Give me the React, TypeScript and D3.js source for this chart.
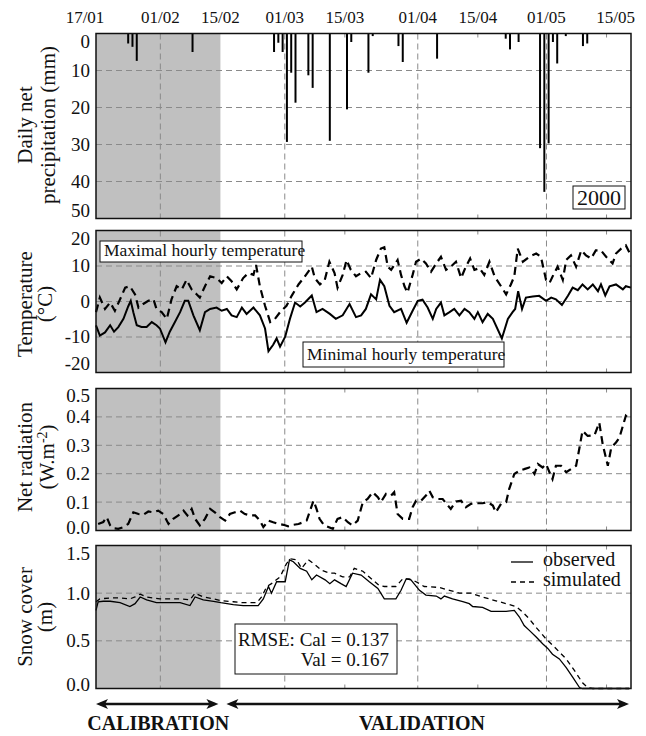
import React from 'react';
import * as d3 from 'd3';

// ---- Data (days counted from 17/01/2000) ----
const dateTickDays = [0, 15, 29, 44, 58, 75, 89, 105, 119];
const dateTickLabels = ['17/01', '01/02', '15/02', '01/03', '15/03', '01/04', '15/04', '01/05', '15/05'];
const monthGridDays = [15, 44, 75, 105];
const midMonthDays = [58, 89, 119];
const calibrationEndDay = 29;

const precipDays = [7, 8, 9, 22, 41, 42, 43, 44, 45, 46, 49, 50, 54, 58, 59, 63, 64, 70, 71, 79, 95, 96, 98, 103, 104, 105, 106, 107, 109, 113, 114];
const precipMm = [2.7, 3.6, 7.4, 5, 5, 2.5, 5, 29.3, 10.6, 18.7, 11.3, 14.7, 29, 20.5, 2.3, 10.6, 0.7, 3.4, 7.7, 6.8, 1.4, 4.3, 2.3, 31, 42.8, 29.7, 2.3, 8.1, 0.7, 3.4, 2.7];

const tminDays = [0, 0.9, 2.1, 3.3, 4.2, 5.2, 6.4, 7.5, 8.1, 8.7, 9.5, 10.6, 11.8, 13, 14.1, 14.9, 16.2, 17.2, 18.4, 19.6, 20.7, 21.5, 22.7, 24.2, 25.4, 26.6, 28.1, 29.3, 30.5, 31.6, 32.8, 34, 35.1, 36.7, 38.2, 39.4, 40.2, 41.3, 42.1, 42.9, 44.1, 45.2, 46.4, 47.6, 48.7, 50.3, 51.4, 52.8, 54.5, 55.9, 57.5, 59.1, 60.6, 61.8, 62.9, 64.1, 65.3, 66.2, 67.2, 68.4, 69.5, 71.1, 72.4, 73.8, 75, 76.1, 77.3, 78.5, 79.3, 80.4, 81.2, 82.4, 83.5, 84.7, 85.9, 87, 88.2, 89, 90.1, 91.3, 92.5, 94.6, 96, 97.1, 97.7, 98.4, 99.3, 100.2, 101.8, 103.3, 104.9, 106.1, 107.2, 108.6, 110, 111.1, 112.3, 113.4, 114.6, 115.8, 117, 117.7, 118.7, 119.7, 121.2, 122.8, 123.5, 124.7];
const tminValues = [-6.7, -9.6, -8.7, -6.7, -8.5, -7.2, -4.9, -1.4, 0.2, -3, -6.7, -7.2, -7.2, -5.8, -6.7, -7.6, -11.5, -8.5, -5.8, -3, 0.2, 0.2, -3.9, -8.1, -3, -2.1, -1.7, -2.6, -2.1, -3.9, -4.4, -1.7, -3.5, -1.7, -3.9, -7.6, -14, -12.2, -10.4, -12.7, -9.9, -4.9, -0.3, -1.4, -0.3, 1.7, -3, -2.1, -3.5, -4.9, -3.9, -0.7, -4.4, -3.9, -2.1, 2, 0.6, 6.1, 4.3, -1.2, -3, -2.1, -6, -2.6, 0.2, 0.5, -1.7, -4.9, -2.1, -0.3, -3.9, -3, -2.1, -3.9, -2.1, -3, -4.9, -3, -5.8, -3.5, -4.9, -10.4, -4.9, -3, -2.1, 2.9, -2.1, 1.1, 1.4, 1.6, 0.2, 1.1, 0.6, -1, 1.6, 3.9, 3.2, 4.8, 3.4, 4.8, 2.9, 4.8, 1.7, 4.3, 4.8, 3.4, 4.3, 3.9];

const tmaxDays = [0, 0.9, 2.1, 3.3, 4.4, 5.6, 6.8, 7.9, 9.1, 9.9, 11, 12.2, 13.4, 14.1, 15.3, 16.5, 17.6, 18.8, 20, 21.1, 22.3, 23.5, 24.2, 25.4, 26.6, 28.1, 29.3, 30.5, 31.6, 32.8, 34.3, 35.5, 36.7, 37.3, 38.2, 39.4, 40.6, 41.7, 42.9, 44.4, 45.6, 47.2, 48.7, 50.3, 51, 52.2, 53.3, 54.4, 55.6, 56.3, 57.5, 58.4, 59.4, 60.6, 61.8, 62.9, 64.1, 65.3, 66.4, 67.2, 68, 68.8, 70.3, 71.1, 71.9, 72.6, 73.8, 74.6, 75.8, 76.9, 78.1, 79.3, 80.4, 81.6, 82.7, 83.9, 85.1, 86.2, 87.2, 88.2, 89.4, 90.5, 91.7, 92.9, 94.4, 95.6, 96.7, 97.5, 98.3, 99.5, 101, 102.6, 103.7, 104.9, 105.7, 106.6, 107.6, 108.8, 109.6, 110.7, 111.9, 113.1, 114.2, 115.4, 116.5, 117.7, 118.9, 120.4, 121.2, 122.4, 123.5, 124.3];
const tmaxValues = [-3, 1.1, -2.1, -0.3, -2.6, 0.6, 3.9, 4.3, 2, -1.7, -0.7, 0.2, 0.6, -2.1, -3, -4.9, 0.6, 4.3, 3.4, 6.1, 3.4, 2, 1.1, 4.3, 7.1, 6.6, 5.2, 7.1, 5.7, 3.4, 6.6, 8, 7.5, 10.3, 4.3, -1.2, -5.8, -4.9, -3, -1.2, 1.6, 4.8, 7.1, 9.8, 6.6, 4.8, 6, 11.2, 8, 3.9, 7.5, 11.7, 8.9, 7.1, 8, 8.4, 6.6, 11.7, 14.9, 15.3, 9.8, 8.9, 11.7, 7.5, 4.3, 2.5, 7.5, 11.2, 12.1, 10.7, 8.4, 10.7, 12.6, 8.9, 9.8, 11.2, 6.6, 9.8, 12.1, 8.9, 9.4, 7.5, 11.2, 7.1, 4.3, 2, 4.8, 7.1, 14.9, 11.2, 12.6, 13.5, 12.6, 6.1, 5.2, 7.5, 9.8, 6.1, 11.7, 13, 9.8, 14.4, 13, 12.1, 14.4, 14.4, 12.6, 10.7, 13.5, 14.9, 15.8, 13.9];

const radDays = [0.5, 1.7, 2.5, 3.3, 4, 5.2, 6.4, 7.5, 8.7, 9.9, 11, 12.2, 13.4, 14.5, 15.7, 16.9, 18, 19.2, 20.4, 21.3, 22.3, 23.1, 24.2, 25.4, 26.6, 27.7, 28.9, 30.1, 31.2, 32.4, 33.6, 34.7, 35.9, 37.1, 38.2, 39, 40.2, 41.3, 42.5, 43.7, 44.8, 46, 47.2, 48.3, 49.1, 49.9, 50.7, 51.4, 52.1, 53.2, 55.2, 56.3, 57.5, 58.7, 59.8, 61, 62.2, 63.3, 64.5, 65.7, 66.4, 67.6, 68.8, 69.5, 70.3, 71.5, 73, 73.8, 74.6, 75.8, 76.9, 77.7, 78.5, 79.6, 80.8, 82, 82.7, 83.9, 85.1, 86.2, 87.4, 88.6, 90.1, 91.3, 92.5, 93.2, 94.4, 95.6, 96.3, 97.5, 98.7, 99.8, 101, 102.2, 103, 104.1, 104.9, 105.7, 106.4, 107.2, 108.4, 109.6, 110.7, 111.9, 112.7, 113.4, 114.6, 116.2, 117.3, 118.1, 119.3, 120.1, 121.2, 122, 122.8, 123.5, 124.3];
const radValues = [0.023, 0.03, 0.047, 0.018, 0.008, 0.006, 0.012, 0.023, 0.064, 0.058, 0.055, 0.067, 0.064, 0.07, 0.058, 0.023, 0.041, 0.053, 0.07, 0.053, 0.076, 0.041, 0.018, 0.041, 0.076, 0.064, 0.047, 0.035, 0.058, 0.064, 0.07, 0.058, 0.053, 0.053, 0.035, 0.012, 0.035, 0.029, 0.023, 0.02, 0.015, 0.02, 0.023, 0.029, 0.035, 0.07, 0.105, 0.076, 0.041, 0.018, 0.006, 0.041, 0.047, 0.029, 0.018, 0.035, 0.1, 0.111, 0.135, 0.117, 0.1, 0.129, 0.123, 0.135, 0.058, 0.041, 0.041, 0.082, 0.105, 0.105, 0.123, 0.14, 0.117, 0.111, 0.111, 0.088, 0.076, 0.102, 0.105, 0.082, 0.094, 0.096, 0.096, 0.1, 0.088, 0.064, 0.094, 0.1, 0.146, 0.199, 0.211, 0.216, 0.222, 0.199, 0.234, 0.222, 0.234, 0.205, 0.181, 0.228, 0.228, 0.205, 0.216, 0.228, 0.292, 0.351, 0.333, 0.336, 0.38, 0.304, 0.228, 0.292, 0.31, 0.327, 0.368, 0.404, 0.392];

const snowObsDays = [0, 0.5, 1.7, 3.3, 5.6, 7.9, 9.1, 10.3, 11.8, 14.1, 16.5, 19.6, 21.9, 23.1, 25, 27.4, 29.1, 32, 34.3, 37.8, 39, 40.2, 40.9, 42.1, 44.1, 45.1, 46, 47.6, 49.1, 50.3, 51.4, 53.4, 54.5, 55.6, 57.1, 58.3, 59.8, 61.8, 63.7, 65.7, 67.2, 69.9, 71.1, 72.3, 73.4, 75.4, 76.9, 79.3, 80.4, 81.2, 83.1, 85.5, 87, 87.8, 90.1, 92.1, 95.6, 97.5, 98.7, 99.8, 101, 102.6, 104.1, 105.3, 106.4, 108, 109.6, 111.1, 112.7, 113.4, 124.3];
const snowObsValues = [0.82, 0.91, 0.915, 0.915, 0.9, 0.86, 0.89, 0.96, 0.93, 0.9, 0.9, 0.9, 0.87, 0.96, 0.93, 0.915, 0.9, 0.88, 0.87, 0.87, 0.94, 1.07, 1.0, 1.12, 1.12, 1.35, 1.33, 1.26, 1.23, 1.14, 1.19, 1.14, 1.1, 1.14, 1.1, 1.07, 1.21, 1.19, 1.12, 1.05, 0.94, 0.94, 1.03, 1.15, 1.14, 1.03, 0.98, 0.97, 0.94, 0.97, 0.94, 0.91, 0.89, 0.86, 0.85, 0.81, 0.81, 0.82, 0.75, 0.66, 0.61, 0.54, 0.47, 0.42, 0.36, 0.31, 0.22, 0.12, 0.01, 0, 0];

const snowSimDays = [0, 0.9, 3.3, 5.6, 7.9, 9.1, 10.3, 11.8, 14.9, 19.6, 21.9, 23.1, 25, 27.4, 29.3, 32, 34.3, 37.5, 38.6, 39.8, 40.9, 42.9, 44.4, 45.4, 46.8, 47.9, 49.5, 51, 52.6, 54.5, 55.6, 57.5, 59.1, 60.2, 62.2, 63.7, 66, 67.2, 69.9, 71.5, 73, 74.6, 76.5, 80, 82.4, 84.7, 87.4, 90.1, 93.2, 97.9, 99.5, 101, 102.6, 104.9, 107.2, 109.6, 111.5, 113.4, 114.6, 115.8, 124.3];
const snowSimValues = [0.91, 0.94, 0.95, 0.95, 0.94, 0.96, 0.99, 0.96, 0.94, 0.94, 0.93, 1.0, 0.96, 0.94, 0.92, 0.91, 0.9, 0.9, 0.96, 1.07, 1.1, 1.17, 1.31, 1.36, 1.35, 1.26, 1.35, 1.3, 1.24, 1.21, 1.21, 1.17, 1.17, 1.26, 1.23, 1.17, 1.08, 1.07, 1.07, 1.15, 1.15, 1.12, 1.07, 1.06, 1.03, 1.0, 1.0, 0.96, 0.92, 0.86, 0.8, 0.73, 0.64, 0.52, 0.42, 0.31, 0.19, 0.06, 0.01, 0, 0];

const precipTicks = [0, 10, 20, 30, 40, 50];
const tempTicks = [-20, -10, 0, 10, 20];
const radTicks = [0, 0.1, 0.2, 0.3, 0.4, 0.5];
const snowTicks = [0, 0.5, 1.0, 1.5];

// ---- Layout ----
const W = 646;
const H = 736;
const FONT = '"Liberation Serif", "Times New Roman", Times, serif';
const GRID = '#8a8a8a';
const SHADE = '#c0c0c0';

const x = d3.scaleLinear().domain([0, 124.7]).range([96, 631]);

type PanelProps = {
  y: d3.ScaleLinear<number, number>;
  ticks: number[];
  fmt: (v: number) => string;
  topNudge: number;
  bottomNudge: number;
  title1: string;
  title2: React.ReactNode;
  title1X: number;
  title2X: number;
  titleY: number;
  children?: React.ReactNode;
};

function Panel({ y, ticks, fmt, topNudge, bottomNudge, title1, title2, title1X, title2X, titleY, children }: PanelProps) {
  const [y0, y1] = y.range();
  const top = Math.min(y0, y1);
  const bottom = Math.max(y0, y1);
  const [d0, d1] = x.domain();
  const left = x(d0);
  const right = x(d1);
  const dmin = Math.min(...y.domain());
  const dmax = Math.max(...y.domain());
  return (
    <g>
      <rect x={left} y={top} width={x(calibrationEndDay) - left} height={bottom - top} fill={SHADE} />
      {ticks.filter((t) => t !== dmin && t !== dmax).map((t) => (
        <line key={'h' + t} x1={left} x2={right} y1={y(t)} y2={y(t)} stroke={GRID} strokeWidth={1} strokeDasharray="6,4" />
      ))}
      {monthGridDays.map((d) => (
        <line key={'v' + d} x1={x(d)} x2={x(d)} y1={top} y2={bottom} stroke={GRID} strokeWidth={1} strokeDasharray="6,4" />
      ))}
      {midMonthDays.map((d) => (
        <g key={'m' + d}>
          <line x1={x(d)} x2={x(d)} y1={top} y2={top + 4} stroke={GRID} strokeWidth={1} />
          <line x1={x(d)} x2={x(d)} y1={bottom} y2={bottom - 4} stroke={GRID} strokeWidth={1} />
        </g>
      ))}
      {children}
      <rect x={left} y={top} width={right - left} height={bottom - top} fill="none" stroke="#111" strokeWidth={1.5} />
      {ticks.map((t) => {
        let cy = y(t);
        if (t === dmax) cy = Math.min(cy, y(dmax)) + (y(dmax) < y(dmin) ? topNudge : -bottomNudge);
        if (t === dmin) cy = cy + (y(dmin) > y(dmax) ? -bottomNudge : topNudge);
        return (
          <text key={'t' + t} x={90} y={cy + 6.4} textAnchor="end" fontSize={19} fontFamily={FONT} fill="#111">
            {fmt(t)}
          </text>
        );
      })}
      <text transform={`translate(${title1X},${titleY}) rotate(-90)`} textAnchor="middle" fontSize={21} fontFamily={FONT} fill="#111">
        {title1}
      </text>
      <text transform={`translate(${title2X},${titleY}) rotate(-90)`} textAnchor="middle" fontSize={21} fontFamily={FONT} fill="#111">
        {title2}
      </text>
    </g>
  );
}

function Arrow({ x1, x2, yy }: { x1: number; x2: number; yy: number }) {
  const L = 12;
  const hw = 5;
  return (
    <g>
      <line x1={x1 + 4} x2={x2 - 4} y1={yy} y2={yy} stroke="#111" strokeWidth={2.5} />
      <polygon points={`${x1},${yy} ${x1 + L},${yy - hw} ${x1 + L - 3},${yy} ${x1 + L},${yy + hw}`} fill="#111" />
      <polygon points={`${x2},${yy} ${x2 - L},${yy - hw} ${x2 - L + 3},${yy} ${x2 - L},${yy + hw}`} fill="#111" />
    </g>
  );
}

export default function App() {
  const yP = d3.scaleLinear().domain([0, 50]).range([33.5, 218.5]);
  const yT = d3.scaleLinear().domain([-20, 20]).range([372.5, 230.5]);
  const yR = d3.scaleLinear().domain([0, 0.5]).range([530.5, 388.5]);
  const yS = d3.scaleLinear().domain([0, 1.5]).range([688.5, 545.5]);

  const lineOf = (ys: d3.ScaleLinear<number, number>) =>
    d3.line<[number, number]>().x((d) => x(d[0])).y((d) => ys(d[1]));

  const zip = (a: number[], b: number[]) => a.map((d, i) => [d, b[i]] as [number, number]);

  const tminPath = lineOf(yT)(zip(tminDays, tminValues)) || '';
  const tmaxPath = lineOf(yT)(zip(tmaxDays, tmaxValues)) || '';
  const radPath = lineOf(yR)(zip(radDays, radValues)) || '';
  const obsPath = lineOf(yS)(zip(snowObsDays, snowObsValues)) || '';
  const simPath = lineOf(yS)(zip(snowSimDays, snowSimValues)) || '';

  return (
    <svg width={W} height={H} viewBox={`0 0 ${W} ${H}`} style={{ position: 'absolute', left: 0, top: 0, background: '#fff' }}>
      <rect x={0} y={0} width={W} height={H} fill="#fff" />

      {/* Date labels */}
      {dateTickDays.map((d, i) => {
        const dx = i === 0 ? -11 : i === dateTickDays.length - 1 ? 9 : 0;
        return (
          <text key={'dl' + d} x={x(d) + dx} y={23} textAnchor="middle" fontSize={17} fontFamily={FONT} fill="#111">
            {dateTickLabels[i]}
          </text>
        );
      })}

      {/* Precipitation */}
      <Panel y={yP} ticks={precipTicks} fmt={(v) => String(v)} topNudge={8} bottomNudge={7.5}
        title1="Daily net" title2="precipitation (mm)" title1X={32} title2X={55} titleY={125}>
        {precipDays.map((d, i) => (
          <line key={'p' + d} x1={x(d + 0.5)} x2={x(d + 0.5)} y1={yP(0)} y2={yP(precipMm[i])} stroke="#000" strokeWidth={2} />
        ))}
        <rect x={573} y={186} width={52} height={23} fill="#fff" stroke="#111" strokeWidth={1} />
        <text x={599} y={205} textAnchor="middle" fontSize={22} fontFamily={FONT} fill="#111">2000</text>
      </Panel>

      {/* Temperature */}
      <Panel y={yT} ticks={tempTicks} fmt={(v) => String(v)} topNudge={8.5} bottomNudge={9}
        title1="Temperature" title2="(°C)" title1X={32} title2X={52} titleY={304}>
        <path d={tmaxPath} fill="none" stroke="#000" strokeWidth={2.2} strokeDasharray="8,5" />
        <path d={tminPath} fill="none" stroke="#000" strokeWidth={2} />
        <rect x={100} y={241} width={202} height={21} fill="#fff" stroke="#111" strokeWidth={1} />
        <text x={104} y={256} fontSize={17.5} fontFamily={FONT} fill="#111">Maximal hourly temperature</text>
        <rect x={303} y={342} width={201} height={25} fill="#fff" stroke="#111" strokeWidth={1} />
        <text x={307} y={360} fontSize={17.5} fontFamily={FONT} fill="#111">Minimal hourly temperature</text>
      </Panel>

      {/* Net radiation */}
      <Panel y={yR} ticks={radTicks} fmt={(v) => v.toFixed(1)} topNudge={7.5} bottomNudge={2.5}
        title1="Net radiation"
        title2={<>(W.m<tspan dy={-7} fontSize={14}>-2</tspan><tspan dy={7}>)</tspan></>}
        title1X={32} title2X={54} titleY={457}>
        <path d={radPath} fill="none" stroke="#000" strokeWidth={2.2} strokeDasharray="8,5" />
      </Panel>

      {/* Snow cover */}
      <Panel y={yS} ticks={snowTicks} fmt={(v) => v.toFixed(1)} topNudge={8.5} bottomNudge={3.5}
        title1="Snow cover" title2="(m)" title1X={32} title2X={52} titleY={617}>
        <path d={simPath} fill="none" stroke="#000" strokeWidth={1.3} strokeDasharray="5,4" />
        <path d={obsPath} fill="none" stroke="#000" strokeWidth={1.3} />
        <line x1={511} x2={533} y1={562} y2={562} stroke="#000" strokeWidth={1.3} />
        <text x={543} y={566} fontSize={20} fontFamily={FONT} fill="#111">observed</text>
        <line x1={511} x2={535} y1={582} y2={582} stroke="#000" strokeWidth={1.3} strokeDasharray="5,4" />
        <text x={543} y={586} fontSize={20} fontFamily={FONT} fill="#111">simulated</text>
        <rect x={235} y={624} width={162} height={50} fill="#fff" stroke="#111" strokeWidth={1} />
        <text x={389} y={646} textAnchor="end" fontSize={19} fontFamily={FONT} fill="#111">RMSE: Cal = 0.137</text>
        <text x={389} y={666} textAnchor="end" fontSize={19} fontFamily={FONT} fill="#111">Val = 0.167</text>
      </Panel>

      {/* Calibration / validation arrows */}
      <Arrow x1={x(0)} x2={x(calibrationEndDay) - 2} yy={704} />
      <Arrow x1={x(calibrationEndDay) + 6} x2={629} yy={704} />
      <text x={(x(0) + x(calibrationEndDay)) / 2} y={730} textAnchor="middle" fontSize={20} fontWeight="bold" fontFamily={FONT} fill="#111">CALIBRATION</text>
      <text x={422} y={730} textAnchor="middle" fontSize={20} fontWeight="bold" fontFamily={FONT} fill="#111">VALIDATION</text>
    </svg>
  );
}
